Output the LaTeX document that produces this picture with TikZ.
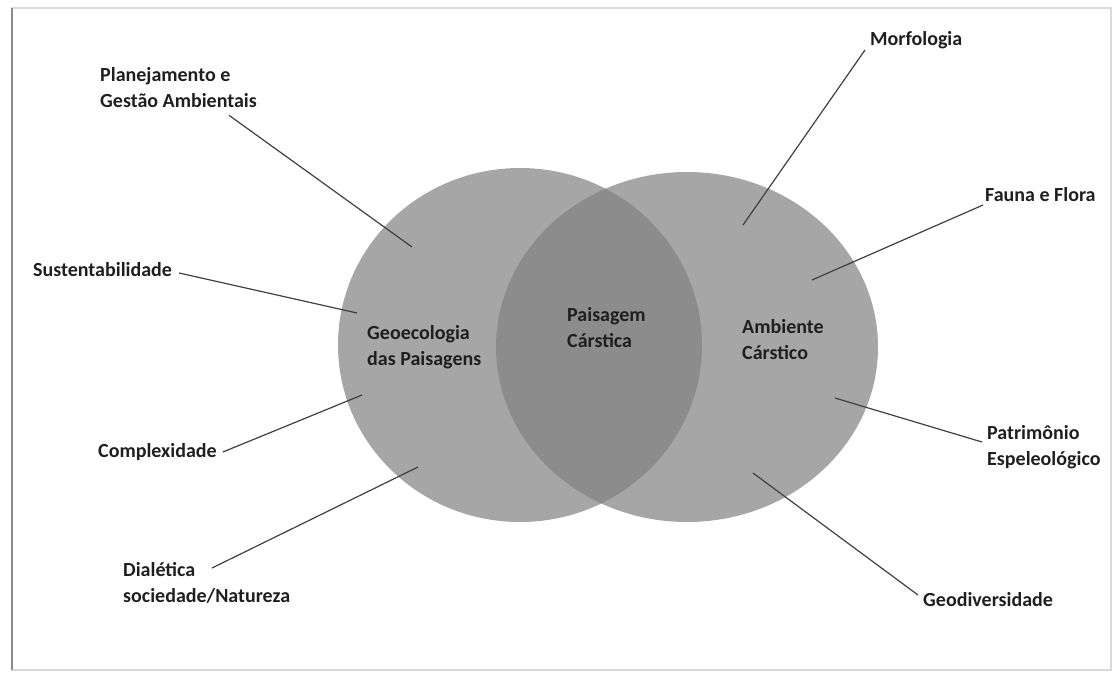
\documentclass[tikz,border=0pt]{standalone}
\usepackage{fontspec}
\setmainfont{Carlito}

\begin{document}
\begin{tikzpicture}[x=1pt, y=-1pt, font=\fontsize{20}{26}\selectfont\bfseries,
txt/.style={inner sep=0pt, align=left, text=black!88},
lead/.style={draw=black!75, line width=1.2pt},
circ/.style={fill=black!35},
lens/.style={fill=black!45}]
 \useasboundingbox (0,0) rectangle (1115,673);
 \draw[black!15, line width=1.5pt] (12,8) rectangle (1111,670);
 \draw[black!45, line width=1.5pt] (12,8) -- (12,670);

 % the two sets and their overlap
 \fill[circ] (520,345) ellipse [x radius=182pt, y radius=177pt];
 \fill[circ] (687,347) ellipse [x radius=191pt, y radius=175pt];
 \begin{scope}
  \clip (520,345) ellipse [x radius=182pt, y radius=177pt];
  \fill[lens] (687,347) ellipse [x radius=191pt, y radius=175pt];
 \end{scope}

 \node[txt, anchor=west] (geo) at (367,347) {Geoecologia\\das Paisagens};
 \node[txt, anchor=west] (paisagem) at (567,328) {Paisagem\\Cárstica};
 \node[txt, anchor=west] (ambiente) at (742,340) {Ambiente\\Cárstico};

 \node[txt, anchor=west] (plan) at (100,88) {Planejamento e\\Gestão Ambientais};
 \node[txt, anchor=west] (sust) at (33,270) {Sustentabilidade};
 \node[txt, anchor=west] (compl) at (98,452) {Complexidade};
 \node[txt, anchor=west] (dial) at (123,583) {Dialética\\sociedade/Natureza};
 \node[txt, anchor=west] (morf) at (870,40) {Morfologia};
 \node[txt, anchor=west] (fauna) at (985,195) {Fauna e Flora};
 \node[txt, anchor=west] (patr) at (987,447) {Patrimônio\\Espeleológico};
 \node[txt, anchor=west] (geodiv) at (923,600) {Geodiversidade};

 \coordinate (planIn) at (412,247);
 \coordinate (sustIn) at (357,313);
 \coordinate (complIn) at (362,395);
 \coordinate (dialIn) at (418,467);
 \coordinate (morfIn) at (743,225);
 \coordinate (faunaIn) at (812,280);
 \coordinate (patrIn) at (835,398);
 \coordinate (geodivIn) at (753,473);

 \draw[lead] ([shift={(-28,7)}]plan.south east) -- (planIn);
 \draw[lead] ([shift={(7,3)}]sust.east) -- (sustIn);
 \draw[lead] ([xshift=6pt]compl.east) -- (complIn);
 \draw[lead] ([shift={(89,-15)}]dial.west) -- (dialIn);
 \draw[lead] ([shift={(-5,10)}]morf.west) -- (morfIn);
 \draw[lead] ([shift={(-2,10)}]fauna.west) -- (faunaIn);
 \draw[lead] ([shift={(-5,-5)}]patr.west) -- (patrIn);
 \draw[lead] ([shift={(-5,-5)}]geodiv.west) -- (geodivIn);
\end{tikzpicture}
\end{document}
